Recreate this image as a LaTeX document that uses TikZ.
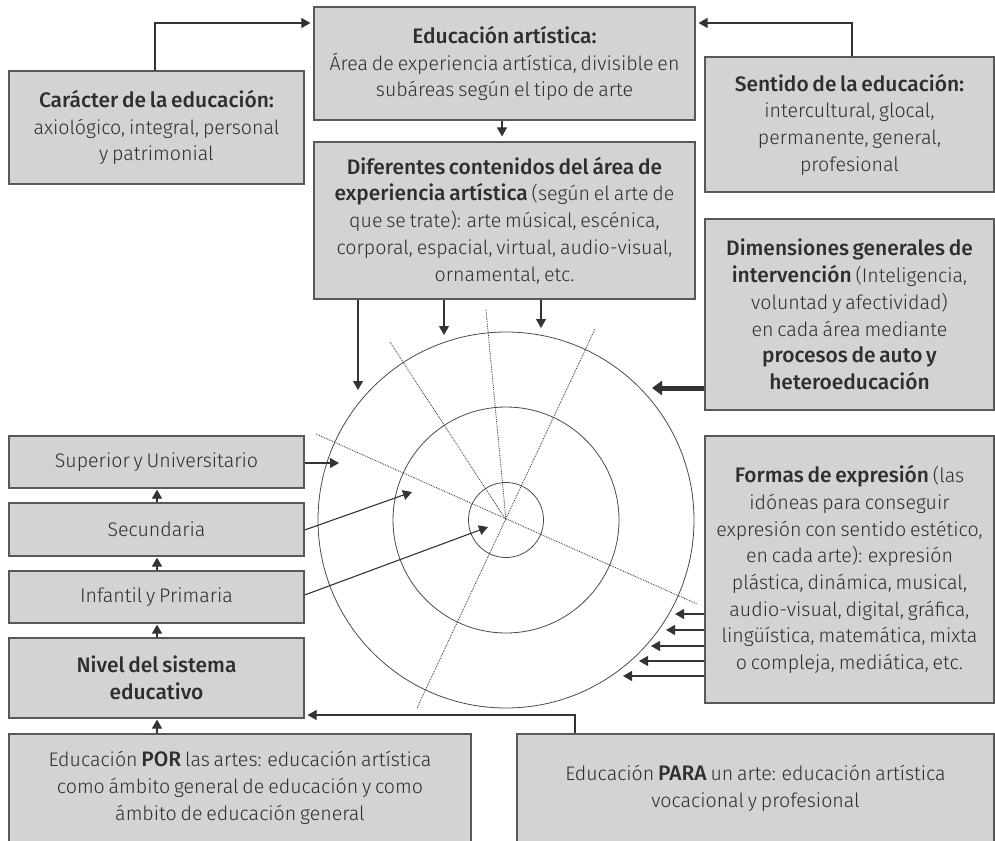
\documentclass[tikz,border=0pt]{standalone}
\usepackage{fontspec}
\setmainfont{Fira Sans Light}[BoldFont={Fira Sans Medium}, WordSpace=0.7, BoldFeatures={WordSpace=0.7, Scale=1.07}]
\usetikzlibrary{arrows.meta}
\definecolor{boxfill}{HTML}{D1D3D4}
\definecolor{boxdraw}{HTML}{58595B}
\definecolor{txt}{HTML}{2E2E2E}
\definecolor{ln}{HTML}{333333}
\definecolor{circ}{HTML}{4A4A4A}
\definecolor{dotc}{HTML}{2A2A2A}
\begin{document}
\begin{tikzpicture}[x=1pt,y=-1pt,
  box/.style={draw=boxdraw, fill=boxfill, line width=1.2pt, inner sep=0pt, align=center, text=txt,
    font=\fontsize{19.6}{26.7}\selectfont},
  arr/.style={draw=ln, line width=1.1pt, -{Triangle[length=9pt,width=10pt]}},
  thickarr/.style={draw=ln, line width=5pt, -{Triangle[length=10pt,width=14pt]}},
  ring/.style={draw=circ, line width=0.8pt},
  dots/.style={draw=dotc, line width=0.8pt, densely dotted}
]
\useasboundingbox (0,0) rectangle (995,840);

% boxes
\node[box, minimum width=295, minimum height=113] (car) at (156.5,127.5)
  {\textbf{Carácter de la educación:}\\ axiológico, integral, personal\\ y patrimonial};
\node[box, minimum width=381, minimum height=113] (edu) at (504.5,63.5)
  {\textbf{Educación artística:}\\ Área de experiencia artística, divisible en\\ subáreas según el tipo de arte};
\node[box, minimum width=381, minimum height=157] (dif) at (504.5,220.5)
  {\textbf{Diferentes contenidos del área de}\\ \textbf{experiencia artística} (según el arte de\\ que se trate): arte músical, escénica,\\ corporal, espacial, virtual, audio-visual,\\ ornamental, etc.};
\node[box, minimum width=289, minimum height=135] (sen) at (849.5,124.5)
  {\textbf{Sentido de la educación:}\\ intercultural, glocal,\\ permanente, general,\\ profesional};
\node[box, minimum width=289, minimum height=191] (dim) at (849.5,314.5)
  {\textbf{Dimensiones generales de}\\ \textbf{intervención} (Inteligencia,\\ voluntad y afectividad)\\ en cada área mediante\\ \textbf{procesos de auto y}\\ \textbf{heteroeducación}};
\node[box, minimum width=289, minimum height=267] (for) at (849.5,569.5)
  {\textbf{Formas de expresión} (las\\ idóneas para conseguir\\ expresión con sentido estético,\\ en cada arte): expresión\\ plástica, dinámica, musical,\\ audio-visual, digital, gráfica,\\ lingüística, matemática, mixta\\ o compleja, mediática, etc.};
\node[box, minimum width=295, minimum height=52] (sup) at (156.5,462) {Superior y Universitario};
\node[box, minimum width=295, minimum height=53] (sec) at (156.5,529.5) {Secundaria};
\node[box, minimum width=295, minimum height=52] (inf) at (156.5,597) {Infantil y Primaria};
\node[box, minimum width=295, minimum height=80] (niv) at (156.5,678)
  {\textbf{Nivel del sistema}\\ \textbf{educativo}};
\node[box, minimum width=462, minimum height=108] (por) at (240,788)
  {Educación \textbf{POR} las artes: educación artística\\ como ámbito general de educación y como\\ ámbito de educación general};
\node[box, minimum width=477, minimum height=108] (para) at (755.5,788)
  {Educación \textbf{PARA} un arte: educación artística\\ vocacional y profesional};

% circles
\coordinate (c) at (506,520);
\draw[ring] (c) circle[radius=188];
\draw[ring] (c) circle[radius=113];
\draw[ring] (c) circle[radius=37.5];
\coordinate (d1a) at (316,434);
\coordinate (d1b) at (697,604);
\coordinate (d2) at (390,342);
\coordinate (d3) at (486,310);
\coordinate (d4a) at (595,329);
\coordinate (d4b) at (417,708);
\draw[dots] (d1a) -- (d1b);
\draw[dots] (d2) -- (c);
\draw[dots] (d3) -- (c);
\draw[dots] (d4a) -- (d4b);

% top connectors
\coordinate (k1) at (155,23);
\coordinate (k2) at (852,23);
\coordinate (k3) at (575,715);
\draw[arr, shorten >=3pt] (car.north -| k1) -- (k1) -- (edu.west |- k1);
\draw[arr, shorten >=3pt] (sen.north -| k2) -- (k2) -- (edu.east |- k2);
\coordinate (k4) at (502,0);
\draw[arr, shorten >=5pt] (edu.south -| k4) -- (dif.north -| k4);
\draw[arr, shorten >=3pt] (para.north -| k3) -- (k3) -- (niv.east |- k3);

% left stack
\coordinate (k5) at (157,0);
\draw[arr, shorten >=1pt] (sec.north -| k5) -- (sup.south -| k5);
\draw[arr, shorten >=1pt] (inf.north -| k5) -- (sec.south -| k5);
\draw[arr, shorten >=1pt] (niv.north -| k5) -- (inf.south -| k5);
\draw[arr, shorten >=1pt] (por.north -| k5) -- (niv.south -| k5);

% into the circle from the top box
\coordinate (t1) at (358,390);
\coordinate (t2) at (444,335);
\coordinate (t3) at (541,328);
\draw[arr] (dif.south -| t1) -- (t1);
\draw[arr] (dif.south -| t2) -- (t2);
\draw[arr] (dif.south -| t3) -- (t3);

% thick arrow
\coordinate (t4) at (652,388);
\draw[thickarr] (dim.west |- t4) -- (t4);

% from levels
\coordinate (t5) at (339,463);
\coordinate (s6) at (304,530);
\coordinate (t6) at (412,492);
\coordinate (s7) at (304,595);
\coordinate (t7) at (488,527);
\draw[arr] (sup.east |- t5) -- (t5);
\draw[arr] (sec.east |- s6) -- (t6);
\draw[arr] (inf.east |- s7) -- (t7);

% from Formas
\coordinate (f1) at (675,614);
\coordinate (f2) at (666,630);
\coordinate (f3) at (651,646);
\coordinate (f4) at (639,661);
\coordinate (f5) at (623,676);
\foreach \f in {f1,f2,f3,f4,f5}
  \draw[arr] (for.west |- \f) -- (\f);
\end{tikzpicture}
\end{document}
